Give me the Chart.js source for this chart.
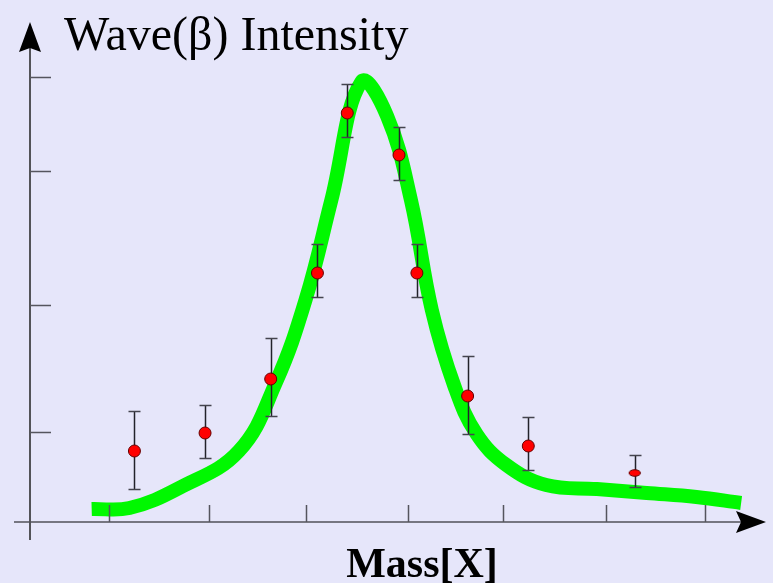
<!DOCTYPE html>
<html>
<head>
<meta charset="utf-8">
<script src="https://cdn.jsdelivr.net/npm/chart.js@4"></script>
<style>
  html, body { margin: 0; padding: 0; background: #e6e6fa; }
  #wrap { width: 773px; height: 583px; }
</style>
</head>
<body>
<div id="wrap"><canvas id="chart" width="773" height="583"></canvas></div>
<script>
// measured points (mass, intensity) with error bar ends
const massPoints = [1.26, 1.97, 2.63, 3.10, 3.40, 3.92, 4.10, 4.61, 5.22, 6.29];
const intensity  = [0.71, 0.89, 1.43, 2.49, 4.09, 3.67, 2.49, 1.26, 0.76, 0.49];
const errHigh    = [1.11, 1.17, 1.84, 2.78, 4.38, 3.95, 2.78, 1.66, 1.05, 0.67];
const errLow     = [0.33, 0.64, 1.06, 2.25, 3.85, 3.42, 2.25, 0.88, 0.52, 0.35];

// fitted curve
const fitMass  = [0.83, 1.21, 1.71, 2.31, 2.68, 2.98, 3.24, 3.54, 3.80, 4.04, 4.25, 4.48, 4.70, 5.00, 5.40, 5.91, 6.41, 6.91, 7.36];
const fitValue = [0.13, 0.14, 0.34, 0.71, 1.39, 2.22, 3.22, 4.40, 4.06, 3.22, 2.12, 1.35, 0.88, 0.57, 0.37, 0.33, 0.29, 0.25, 0.19];

// axis tick positions (no labels)
const xTicks = [1, 2.01, 2.99, 4.01, 4.97, 6, 7];
const yTicks = [0.90, 2.17, 3.51, 4.45];

const TITLE = 'Wave(\u03B2) Intensity';
const XLABEL = 'Mass[X]';

// the last point is drawn squashed in the original
const ell = document.createElement('canvas');
ell.width = 14; ell.height = 10;
(function () {
    const c = ell.getContext('2d');
    c.beginPath();
    c.ellipse(7, 5, 5.7, 3.3, 0, 0, Math.PI * 2);
    c.fillStyle = '#ff0000';
    c.fill();
    c.lineWidth = 1;
    c.strokeStyle = '#660000';
    c.stroke();
})();
const pointStyles = massPoints.map((m, i) => i === massPoints.length - 1 ? ell : 'circle');

function arrow(ctx, tx, ty, dir) {
    ctx.beginPath();
    if (dir === 'up') {
        ctx.moveTo(tx, ty);
        ctx.lineTo(tx + 11, ty + 30);
        ctx.lineTo(tx, ty + 26);
        ctx.lineTo(tx - 11, ty + 30);
    } else {
        ctx.moveTo(tx, ty);
        ctx.lineTo(tx - 30, ty - 11);
        ctx.lineTo(tx - 25, ty);
        ctx.lineTo(tx - 30, ty + 11);
    }
    ctx.closePath();
    ctx.fillStyle = '#000';
    ctx.fill();
}

const errorBars = {
    id: 'errorBars',
    beforeDatasetDraw(chart, args) {
        if (args.index !== 0) return;
        const ctx = chart.ctx, x = chart.scales.x, y = chart.scales.y;
        ctx.save();
        massPoints.forEach((m, i) => {
            const px = Math.round(x.getPixelForValue(m)) + 0.5;
            const top = Math.round(y.getPixelForValue(errHigh[i])) + 0.5;
            const bot = Math.round(y.getPixelForValue(errLow[i])) + 0.5;
            ctx.strokeStyle = '#22222a';
            ctx.lineWidth = 1.5;
            ctx.beginPath();
            ctx.moveTo(px, top); ctx.lineTo(px, bot);
            ctx.stroke();
            ctx.strokeStyle = '#44444e';
            ctx.lineWidth = 1.6;
            ctx.beginPath();
            ctx.moveTo(px - 6, top); ctx.lineTo(px + 6, top);
            ctx.moveTo(px - 6, bot); ctx.lineTo(px + 6, bot);
            ctx.stroke();
        });
        ctx.restore();
    }
};

const axesAndText = {
    id: 'axesAndText',
    afterDraw(chart) {
        const ctx = chart.ctx, x = chart.scales.x, y = chart.scales.y;
        const x0 = x.left, y0 = y.bottom;
        ctx.save();
        ctx.lineWidth = 1.5;
        // y axis
        ctx.strokeStyle = '#222';
        ctx.beginPath();
        ctx.moveTo(x0, y0 + 18); ctx.lineTo(x0, y.top + 26);
        ctx.stroke();
        // x axis
        ctx.strokeStyle = '#505058';
        ctx.beginPath();
        ctx.moveTo(x0 - 16, y0); ctx.lineTo(x.right - 25, y0);
        ctx.stroke();
        arrow(ctx, x0, y.top, 'up');
        arrow(ctx, x.right, y0, 'right');
        // ticks
        ctx.strokeStyle = '#55555e';
        ctx.beginPath();
        xTicks.forEach(v => {
            const px = Math.round(x.getPixelForValue(v)) + 0.5;
            ctx.moveTo(px, y0); ctx.lineTo(px, y0 - 17);
        });
        yTicks.forEach(v => {
            const py = Math.round(y.getPixelForValue(v)) + 0.5;
            ctx.moveTo(x0, py); ctx.lineTo(x0 + 21, py);
        });
        ctx.stroke();
        // text
        ctx.fillStyle = '#000';
        ctx.textBaseline = 'alphabetic';
        ctx.textAlign = 'left';
        ctx.font = '48px "Liberation Serif", "Times New Roman", serif';
        ctx.fillText(TITLE, 64, 50);
        ctx.textAlign = 'center';
        ctx.font = 'bold 42px "Liberation Serif", "Times New Roman", serif';
        ctx.fillText(XLABEL, 422, 577);
        ctx.restore();
    }
};

new Chart(document.getElementById('chart'), {
    type: 'scatter',
    data: {
        datasets: [
            {
                label: 'data',
                data: massPoints.map((m, i) => ({ x: m, y: intensity[i] })),
                pointStyle: pointStyles,
                pointRadius: 6,
                pointBackgroundColor: '#ff0000',
                pointBorderColor: '#660000',
                pointBorderWidth: 1,
                showLine: false,
                order: 0
            },
            {
                label: 'fit',
                type: 'line',
                data: fitMass.map((m, i) => ({ x: m, y: fitValue[i] })),
                borderColor: '#00f800',
                borderWidth: 14,
                borderCapStyle: 'butt',
                borderJoinStyle: 'round',
                tension: 0.4,
                pointRadius: 0,
                fill: false,
                order: 1
            }
        ]
    },
    options: {
        responsive: false,
        animation: false,
        layout: { padding: { left: 30, right: 3, top: 22, bottom: 61 } },
        plugins: { legend: { display: false }, tooltip: { enabled: false } },
        scales: {
            x: { type: 'linear', display: false, min: 0.21, max: 7.61 },
            y: { type: 'linear', display: false, min: 0, max: 5 }
        }
    },
    plugins: [errorBars, axesAndText]
});
</script>
</body>
</html>
